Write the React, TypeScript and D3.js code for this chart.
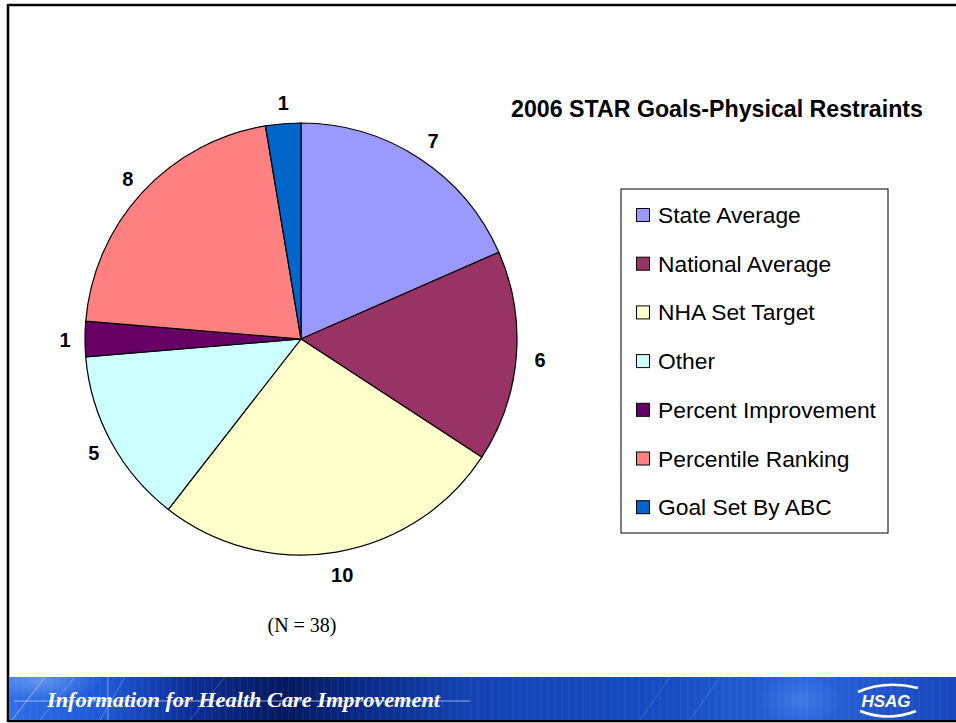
import React from "react";
import * as d3 from "d3";

const categories = [
  "State Average",
  "National Average",
  "NHA Set Target",
  "Other",
  "Percent Improvement",
  "Percentile Ranking",
  "Goal Set By ABC",
];
const values = [7, 6, 10, 5, 1, 8, 1];
const colors = ["#9999FF", "#993366", "#FFFFCC", "#CCFFFF", "#660066", "#FF8080", "#0066CC"];
const title = "2006 STAR Goals-Physical Restraints";
const note = "(N = 38)";
const bannerText = "Information for Health Care Improvement";

const W = 956;
const H = 723;
const cx = 301;
const cy = 339;
const R = 216;
const labelR = 238;

export default function App() {
  const data = categories.map((c, i) => ({ name: c, value: values[i], color: colors[i] }));
  const pie = d3.pie<any>().value((d: any) => d.value).sort(null);
  const arcs = pie(data);
  const arc = d3.arc<any>().innerRadius(0).outerRadius(R);
  const labelArc = d3.arc<any>().innerRadius(labelR).outerRadius(labelR);

  const legendY = d3.scalePoint<string>().domain(categories).range([215, 507.2]);

  const vlines = d3.range(9, W, 7);

  return (
    <svg width={W} height={H} style={{ position: "absolute", left: 0, top: 0 }} fontFamily="Arial, 'Liberation Sans', sans-serif">
      <defs>
        <linearGradient id="bn" x1="0" x2="1" y1="0" y2="0">
          <stop offset="0" stopColor="#2f6fe8" />
          <stop offset="0.1" stopColor="#1f58d6" />
          <stop offset="0.19" stopColor="#0d2e96" />
          <stop offset="0.29" stopColor="#06185e" />
          <stop offset="0.36" stopColor="#0a2680" />
          <stop offset="0.48" stopColor="#1442b2" />
          <stop offset="0.7" stopColor="#184cc2" />
          <stop offset="0.84" stopColor="#2a66dc" />
          <stop offset="1" stopColor="#1845bb" />
        </linearGradient>
        <radialGradient id="glow" cx="0.5" cy="0.5" r="0.5">
          <stop offset="0" stopColor="#9fc4ff" stopOpacity="0.8" />
          <stop offset="1" stopColor="#9fc4ff" stopOpacity="0" />
        </radialGradient>
        <clipPath id="bclip">
          <rect x={9} y={677} width={W - 9} height={43} />
        </clipPath>
      </defs>
      <rect x={0} y={0} width={W} height={H} fill="#fff" />

      {/* slide border */}
      <line x1={8} y1={5} x2={W} y2={5} stroke="#000" strokeWidth={2.5} />
      <line x1={8} y1={4} x2={8} y2={722} stroke="#000" strokeWidth={2.5} />
      <line x1={8} y1={721} x2={W} y2={721} stroke="#000" strokeWidth={2.5} />

      {/* pie */}
      <g transform={`translate(${cx},${cy})`}>
        {arcs.map((a, i) => (
          <path key={i} d={arc(a) as string} fill={a.data.color} stroke="#000" strokeWidth={1.2} />
        ))}
        {arcs.map((a, i) => {
          const [x, y] = labelArc.centroid(a);
          return (
            <text key={"l" + i} x={x + 2} y={y + 1} textAnchor="middle" dominantBaseline="central" fontWeight="bold" fontSize={20} fill="#000">
              {a.data.value}
            </text>
          );
        })}
      </g>

      {/* title */}
      <text x={717} y={117} textAnchor="middle" fontWeight="bold" fontSize={23.2} fill="#000">
        {title}
      </text>

      {/* legend */}
      <rect x={621} y={189} width={267} height={344} fill="#fff" stroke="#000" strokeWidth={1} />
      {categories.map((c, i) => (
        <g key={c}>
          <rect x={636.5} y={(legendY(c) as number) - 6.5} width={13} height={13} fill={colors[i]} stroke="#000" strokeWidth={1} />
          <text x={658} y={legendY(c) as number} dominantBaseline="central" fontSize={22.8} fill="#000">
            {c}
          </text>
        </g>
      ))}

      {/* N note */}
      <text x={302} y={632} textAnchor="middle" fontFamily="'Liberation Serif', 'Times New Roman', serif" fontSize={20} fill="#000">
        {note}
      </text>

      {/* banner */}
      <g clipPath="url(#bclip)">
        <rect x={9} y={677} width={W - 9} height={43} fill="url(#bn)" />
        {vlines.map((x) => (
          <line key={x} x1={x} y1={677} x2={x} y2={720} stroke="#8fb4ff" strokeOpacity={0.12} strokeWidth={1} />
        ))}
        <ellipse cx={40} cy={680} rx={60} ry={20} fill="url(#glow)" opacity={0.6} />
        <line x1={12} y1={720} x2={45} y2={677} stroke="#cfe0ff" strokeOpacity={0.6} />
        <line x1={40} y1={720} x2={75} y2={677} stroke="#cfe0ff" strokeOpacity={0.35} />
        <line x1={100} y1={720} x2={125} y2={677} stroke="#cfe0ff" strokeOpacity={0.3} />
        <line x1={190} y1={720} x2={225} y2={677} stroke="#cfe0ff" strokeOpacity={0.25} />
        <line x1={108} y1={677} x2={108} y2={720} stroke="#cfe0ff" strokeOpacity={0.5} />
        <line x1={640} y1={720} x2={670} y2={677} stroke="#cfe0ff" strokeOpacity={0.2} />
        <line x1={690} y1={720} x2={720} y2={677} stroke="#cfe0ff" strokeOpacity={0.2} />
        <line x1={14} y1={701} x2={470} y2={701} stroke="#cfe0ff" strokeOpacity={0.7} strokeWidth={1} />
        <ellipse cx={800} cy={700} rx={40} ry={25} fill="url(#glow)" opacity={0.25} />
        <text x={47} y={707} fontFamily="'Liberation Serif', 'Times New Roman', serif" fontStyle="italic" fontWeight="bold" fontSize={22} fill="#fff" textLength={393} lengthAdjust="spacingAndGlyphs">
          {bannerText}
        </text>
        {/* HSAG logo */}
        <path d="M 858 692 Q 885 680 918 688" fill="none" stroke="#fff" strokeWidth={2.5} />
        <path d="M 860 711 Q 888 722 916 711" fill="none" stroke="#fff" strokeWidth={2.5} />
        <text x={886} y={707} textAnchor="middle" fontWeight="bold" fontStyle="italic" fontSize={17} fill="#fff">
          HSAG
        </text>
      </g>
    </svg>
  );
}
